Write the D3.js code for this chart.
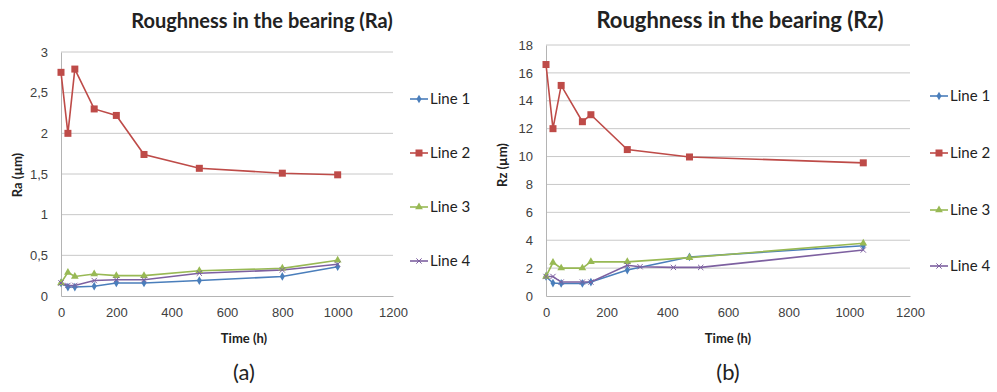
<!DOCTYPE html>
<html>
<head>
<meta charset="utf-8">
<script src="https://cdn.jsdelivr.net/npm/d3@7"></script>
<style>
  body { margin: 0; background: #fff; }
  svg { font-family: Lato, "Open Sans", sans-serif; }
</style>
</head>
<body>
<script>
// chart (a) - Ra
const timeA = [0, 25, 50, 120, 200, 300, 500, 800, 1000]
const raLine1 = [0.16, 0.11, 0.11, 0.12, 0.16, 0.16, 0.19, 0.24, 0.36]
const raLine2 = [2.75, 2.0, 2.79, 2.3, 2.22, 1.74, 1.57, 1.51, 1.49]
const raLine3 = [0.16, 0.29, 0.24, 0.27, 0.25, 0.25, 0.31, 0.34, 0.44]
const raLine4 = [0.16, 0.13, 0.13, 0.19, 0.2, 0.2, 0.28, 0.32, 0.39]

// chart (b) - Rz
const timeB = [0, 23, 50, 120, 148, 268, 473, 1046]
const rzLine1 = [1.4, 0.93, 0.9, 0.9, 1.0, 1.86, 2.8, 3.6]
const rzLine2 = [16.6, 12.0, 15.1, 12.5, 13.0, 10.5, 9.97, 9.55]
const rzLine3 = [1.4, 2.4, 2.0, 2.0, 2.46, 2.45, 2.75, 3.78]
const timeB4 = [0, 23, 50, 120, 148, 268, 310, 420, 510, 1046]
const rzLine4 = [1.4, 1.4, 1.0, 1.0, 1.0, 2.2, 2.1, 2.05, 2.05, 3.3]

const seriesNames = ['Line 1', 'Line 2', 'Line 3', 'Line 4']
const colors = ['#4a7ebb', '#be4b48', '#98b954', '#7d60a0']
const markers = ['diamond', 'square', 'triangle', 'cross']
const xTicks = [0, 200, 400, 600, 800, 1000, 1200]

const svg = d3.select('body').append('svg')
  .attr('width', 997)
  .attr('height', 392)

function marker(g, type, x, y, color) {
  if (type === 'square') {
    g.append('rect').attr('x', x - 3.5).attr('y', y - 3.5).attr('width', 7).attr('height', 7).attr('fill', color)
  } else if (type === 'diamond') {
    g.append('path').attr('d', d3.symbol(d3.symbolDiamond, 22)()).attr('transform', 'translate(' + x + ',' + y + ')').attr('fill', color)
  } else if (type === 'triangle') {
    g.append('path').attr('d', d3.symbol(d3.symbolTriangle, 26)()).attr('transform', 'translate(' + x + ',' + y + ')').attr('fill', color)
  } else {
    g.append('path').attr('d', d3.symbol(d3.symbolX, 20)()).attr('transform', 'translate(' + x + ',' + y + ')').attr('stroke', color).attr('stroke-width', 1)
  }
}

function drawChart(opt) {
  const x = d3.scaleLinear().domain([0, 1200]).range([opt.left, opt.right])
  const y = d3.scaleLinear().domain([0, opt.yMax]).range([296, opt.top])
  const g = svg.append('g')

  // grid
  g.selectAll('.grid').data(opt.yTicks.filter(d => d > 0)).enter().append('line')
    .attr('x1', opt.left).attr('x2', opt.right)
    .attr('y1', d => y(d)).attr('y2', d => y(d))
    .attr('stroke', '#c8c8c8').attr('stroke-width', 1)

  const yAxis = g.append('g')
    .attr('transform', 'translate(' + opt.left + ',0)')
    .call(d3.axisLeft(y).tickValues(opt.yTicks).tickSize(0).tickPadding(13)
      .tickFormat(d => String(d).replace('.', ',')))
  const xAxis = g.append('g')
    .attr('transform', 'translate(0,' + y(0) + ')')
    .call(d3.axisBottom(x).tickValues(xTicks).tickSize(0).tickPadding(12)
      .tickFormat(d3.format('d')))
  ;[yAxis, xAxis].forEach(a => {
    a.select('.domain').attr('stroke', '#b4b4b4')
    a.selectAll('text').attr('fill', '#404040').style('font-size', '13px')
  })

  // lines
  opt.series.forEach((s, i) => {
    const line = d3.line().x((d, j) => x(s.t[j])).y(d => y(d))
    g.append('path').datum(s.v)
      .attr('d', line).attr('fill', 'none')
      .attr('stroke', colors[i]).attr('stroke-width', 1.6)
  })
  opt.series.forEach((s, i) => {
    s.v.forEach((d, j) => marker(g, markers[i], x(s.t[j]), y(d), colors[i]))
  })

  // titles
  g.append('text').attr('x', opt.titleX).attr('y', 28)
    .attr('text-anchor', 'middle').attr('font-weight', 'bold')
    .style('font-size', opt.titleSize + 'px').attr('fill', '#222')
    .text(opt.title)
  g.append('text')
    .attr('transform', 'translate(' + opt.yLabelX + ',' + opt.yLabelY + ') rotate(-90)')
    .attr('text-anchor', 'middle').attr('font-weight', 'bold')
    .style('font-size', '13px').attr('fill', '#222')
    .text(opt.yLabel)
  g.append('text').attr('x', opt.xLabelX).attr('y', 343)
    .attr('text-anchor', 'middle').attr('font-weight', 'bold')
    .style('font-size', '13px').attr('fill', '#222')
    .text('Time (h)')
  g.append('text').attr('x', opt.xLabelX).attr('y', 380)
    .attr('text-anchor', 'middle')
    .style('font-size', '22px').attr('fill', '#222')
    .text(opt.caption)

  // legend
  seriesNames.forEach((name, i) => {
    const ly = opt.legendY[i]
    g.append('line').attr('x1', opt.legendX).attr('x2', opt.legendX + 18)
      .attr('y1', ly).attr('y2', ly)
      .attr('stroke', colors[i]).attr('stroke-width', 1.6)
    marker(g, markers[i], opt.legendX + 9, ly, colors[i])
    g.append('text').attr('x', opt.legendX + 20).attr('y', ly + 5)
      .style('font-size', '15px').attr('fill', '#222')
      .text(name)
  })
}

drawChart({
  left: 61, right: 393, top: 52, yMax: 3,
  yTicks: [0, 0.5, 1, 1.5, 2, 2.5, 3],
  series: [
    {t: timeA, v: raLine1}, {t: timeA, v: raLine2},
    {t: timeA, v: raLine3}, {t: timeA, v: raLine4}
  ],
  title: 'Roughness in the bearing (Ra)', titleX: 262, titleSize: 20,
  yLabel: 'Ra (µm)', yLabelX: 22, yLabelY: 175,
  xLabelX: 244, caption: '(a)',
  legendX: 410, legendY: [99, 153, 207, 261]
})

drawChart({
  left: 546, right: 910, top: 45, yMax: 18,
  yTicks: [0, 2, 4, 6, 8, 10, 12, 14, 16, 18],
  series: [
    {t: timeB, v: rzLine1}, {t: timeB, v: rzLine2},
    {t: timeB, v: rzLine3}, {t: timeB4, v: rzLine4}
  ],
  title: 'Roughness in the bearing (Rz)', titleX: 740, titleSize: 22,
  yLabel: 'Rz (µm)', yLabelX: 507, yLabelY: 165,
  xLabelX: 728, caption: '(b)',
  legendX: 930, legendY: [96, 153, 210, 266]
})
</script>
</body>
</html>
